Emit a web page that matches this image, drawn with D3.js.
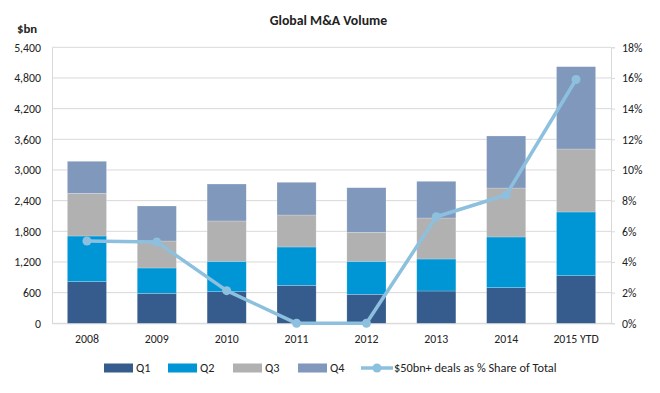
<!DOCTYPE html>
<html><head><meta charset="utf-8">
<script src="https://cdn.jsdelivr.net/npm/d3@7"></script>
<style>
body{margin:0;background:#fff;}
text{font-family:Carlito,Calibri,Lato,"Open Sans",sans-serif;fill:#222;}
</style></head>
<body><svg id="c" width="660" height="393"></svg>
<script>
const categories = ["2008","2009","2010","2011","2012","2013","2014","2015 YTD"];
const q1 = [815,587,618,743,567,632,697,931];
const q2 = [893,495,595,750,646,626,992,1247];
const q3 = [835,528,789,626,567,802,958,1232];
const q4 = [627,685,723,640,873,718,1018,1611];
const share = [5.37,5.3,2.13,0,0,6.95,8.37,15.9];
const leftTicks = [0,600,1200,1800,2400,3000,3600,4200,4800,5400];
const rightTicks = [0,2,4,6,8,10,12,14,16,18];
const seriesNames = ["Q1","Q2","Q3","Q4"];
const colors = ["#355C8C","#0096D6","#B1B1B1","#8098BC"];
const lineColor = "#8DC0DE";
const lineName = "$50bn+ deals as % Share of Total";

const svg = d3.select("#c");
const L = 52, R = 611, T = 47.3, B = 323.3;
const x = d3.scaleBand().domain(categories).range([L,R]).paddingInner(0.44).paddingOuter(0.22);
const y = d3.scaleLinear().domain([0,5400]).range([B,T]);
const y2 = d3.scaleLinear().domain([0,18]).range([B,T]);

// gridlines
svg.append("g").selectAll("line").data(leftTicks).join("line")
  .attr("x1",L).attr("x2",R).attr("y1",d=>y(d)).attr("y2",d=>y(d))
  .attr("stroke","#D9D9D9").attr("stroke-width",1);

// left axis
const ga = svg.append("g").attr("transform",`translate(${L},0)`)
  .call(d3.axisLeft(y).tickValues(leftTicks).tickFormat(d3.format(",")).tickSize(0).tickPadding(11));
ga.select(".domain").attr("stroke","#D9D9D9");
ga.selectAll("text").attr("font-size",11.8).attr("fill","#222");

// right axis
const gr = svg.append("g").attr("transform",`translate(${R},0)`)
  .call(d3.axisRight(y2).tickValues(rightTicks).tickFormat(d=>d+"%").tickSize(4).tickPadding(7));
gr.select(".domain").attr("stroke","#D9D9D9");
gr.selectAll(".tick line").attr("stroke","#D9D9D9");
gr.selectAll("text").attr("font-size",11.8).attr("fill","#222");

// x axis labels
const gx = svg.append("g").attr("transform",`translate(0,${B})`)
  .call(d3.axisBottom(x).tickSize(0).tickPadding(11));
gx.select(".domain").attr("stroke","#D9D9D9");
gx.selectAll("text").attr("font-size",11.8).attr("fill","#222");

// stacked bars
const rows = categories.map((c,i)=>({cat:c,Q1:q1[i],Q2:q2[i],Q3:q3[i],Q4:q4[i]}));
const stack = d3.stack().keys(seriesNames)(rows);
svg.append("g").selectAll("g").data(stack).join("g")
  .attr("fill",(d,i)=>colors[i])
  .selectAll("rect").data(d=>d).join("rect")
  .attr("x",d=>x(d.data.cat)).attr("width",x.bandwidth())
  .attr("y",d=>y(d[1])).attr("height",d=>y(d[0])-y(d[1]))
  .attr("stroke","#ffffff").attr("stroke-opacity",0.35).attr("stroke-width",0.6);

// line
const cx = c=>x(c)+x.bandwidth()/2;
svg.append("path").datum(share)
  .attr("d",d3.line().x((d,i)=>cx(categories[i])).y(d=>y2(d)))
  .attr("fill","none").attr("stroke",lineColor).attr("stroke-width",3.5).attr("stroke-linejoin","round");
svg.append("g").selectAll("circle").data(share).join("circle")
  .attr("cx",(d,i)=>cx(categories[i])).attr("cy",d=>y2(d)).attr("r",4.5).attr("fill",lineColor);

// title
svg.append("text").attr("x",328.5).attr("y",25).attr("text-anchor","middle")
  .attr("font-size",13.8).attr("font-weight","bold").text("Global M&A Volume");
svg.append("text").attr("x",17).attr("y",33).attr("font-size",12.8).attr("font-weight","bold").text("$bn");

// legend
const ly = 368;
const legendItems = [
  {name:seriesNames[0],x:104,type:"rect",color:colors[0]},
  {name:seriesNames[1],x:168,type:"rect",color:colors[1]},
  {name:seriesNames[2],x:233,type:"rect",color:colors[2]},
  {name:seriesNames[3],x:298,type:"rect",color:colors[3]},
  {name:lineName,x:361,type:"line",color:lineColor}
];
const lg = svg.append("g");
legendItems.forEach(it=>{
  if(it.type==="rect"){
    lg.append("rect").attr("x",it.x).attr("y",ly-4.5).attr("width",29).attr("height",9).attr("fill",it.color);
    lg.append("text").attr("x",it.x+32).attr("y",ly+4.2).attr("font-size",12.3).text(it.name);
  } else {
    lg.append("line").attr("x1",it.x).attr("x2",it.x+32).attr("y1",ly).attr("y2",ly)
      .attr("stroke",it.color).attr("stroke-width",3.5);
    lg.append("circle").attr("cx",it.x+16).attr("cy",ly).attr("r",4.5).attr("fill",it.color);
    lg.append("text").attr("x",it.x+33).attr("y",ly+4.2).attr("font-size",12.3).text(it.name);
  }
});
</script></body></html>
